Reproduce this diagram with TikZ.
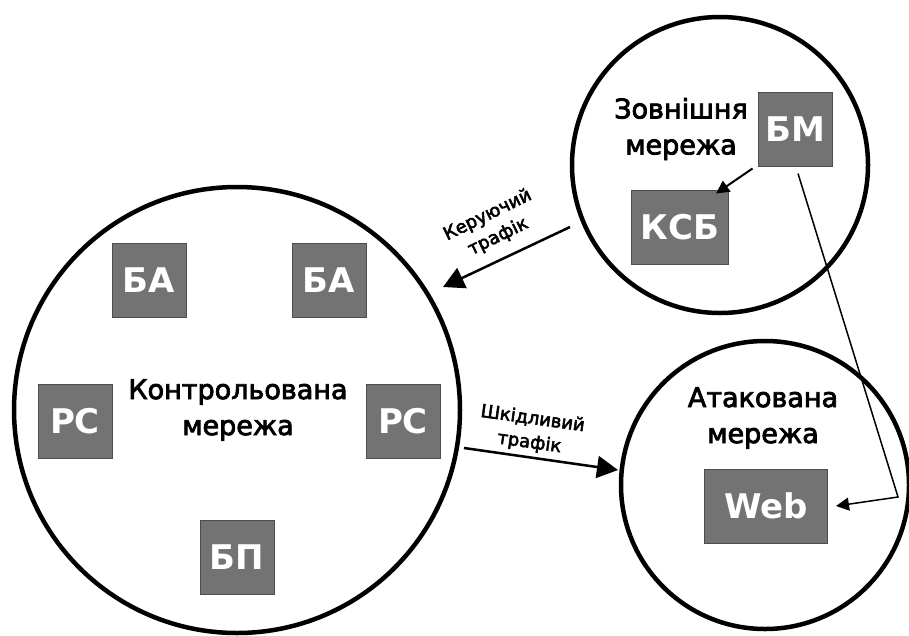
\documentclass[tikz,border=0pt]{standalone}
\usepackage{fontspec}
\setmainfont{DejaVu Sans}
\newfontfamily\midfont{DejaVu Sans}[FakeBold=3]
\usetikzlibrary{arrows.meta,positioning}
\definecolor{boxfill}{HTML}{737373}
\definecolor{boxline}{HTML}{4D4D4D}

\begin{document}
\begin{tikzpicture}[x=1pt,y=-1pt,
  net/.style={draw=black,line width=4.5pt,circle,minimum size=#1,inner sep=0pt},
  unit/.style={draw=boxline,fill=boxfill,line width=1pt,minimum height=74pt,
    minimum width=#1,inner sep=0pt,text=white,font=\fontsize{34}{34}\selectfont\bfseries},
  unit/.default=74pt,
  netname/.style={align=center,font=\fontsize{27}{36}\midfont},
  flowname/.style={align=center,font=\fontsize{18}{24}\midfont},
  flow/.style={line width=2.5pt,-{Triangle[length=21pt,width=22pt]}},
  link/.style={line width=2pt,-{Triangle[length=13pt,width=13pt]}}]
  \useasboundingbox (0,0) rectangle (909,635);
  % networks
  \node[net=446pt] (ctrl) at (237,410) {};
  \node[net=296pt] (ext) at (720,165) {};
  \node[net=288pt] (att) at (765,485) {};
  \node[netname] (ctrltxt) at (238,410) {Контрольована\\мережа};
  \node[netname] (exttxt) at (681,129) {Зовнішня\\мережа};
  \node[netname] (atttxt) at (763,418) {Атакована\\мережа};
  % hosts
  \node[unit] (ba1) at (149,280) {БА};
  \node[unit] (ba2) at (329,280) {БА};
  \node[unit] (pc1) at (75,421) {РС};
  \node[unit] (pc2) at (403,421) {РС};
  \node[unit] (bp) at (237,557) {БП};
  \node[unit] (bm) at (795,129) {БМ};
  \node[unit=97pt] (ksb) at (680,227) {КСБ};
  \node[unit=123pt] (web) at (766,506) {Web};
  % traffic
  \coordinate (ctlfrom) at (570,227);
  \coordinate (ctlto) at (443,287);
  \coordinate (badfrom) at (464,448);
  \coordinate (badto) at (618,470);
  \coordinate (bend) at (898,497);
  \draw[flow] (ctlfrom) -- (ctlto);
  \draw[flow] (badfrom) -- (badto);
  \node[flowname,rotate=26] (ctltxt) at (493,226) {Керуючий\\трафік};
  \node[flowname,rotate=-8] (badtxt) at (531,431) {Шкідливий\\трафік};
  \draw[link] ([xshift=-5pt,yshift=-2pt]bm.south west) -- ([xshift=36pt,yshift=-4pt]ksb.north);
  \draw[link,line width=1.5pt] ([xshift=3pt,yshift=-7pt]bm.south) -- (bend) -- ([xshift=8pt]web.east);
\end{tikzpicture}
\end{document}
